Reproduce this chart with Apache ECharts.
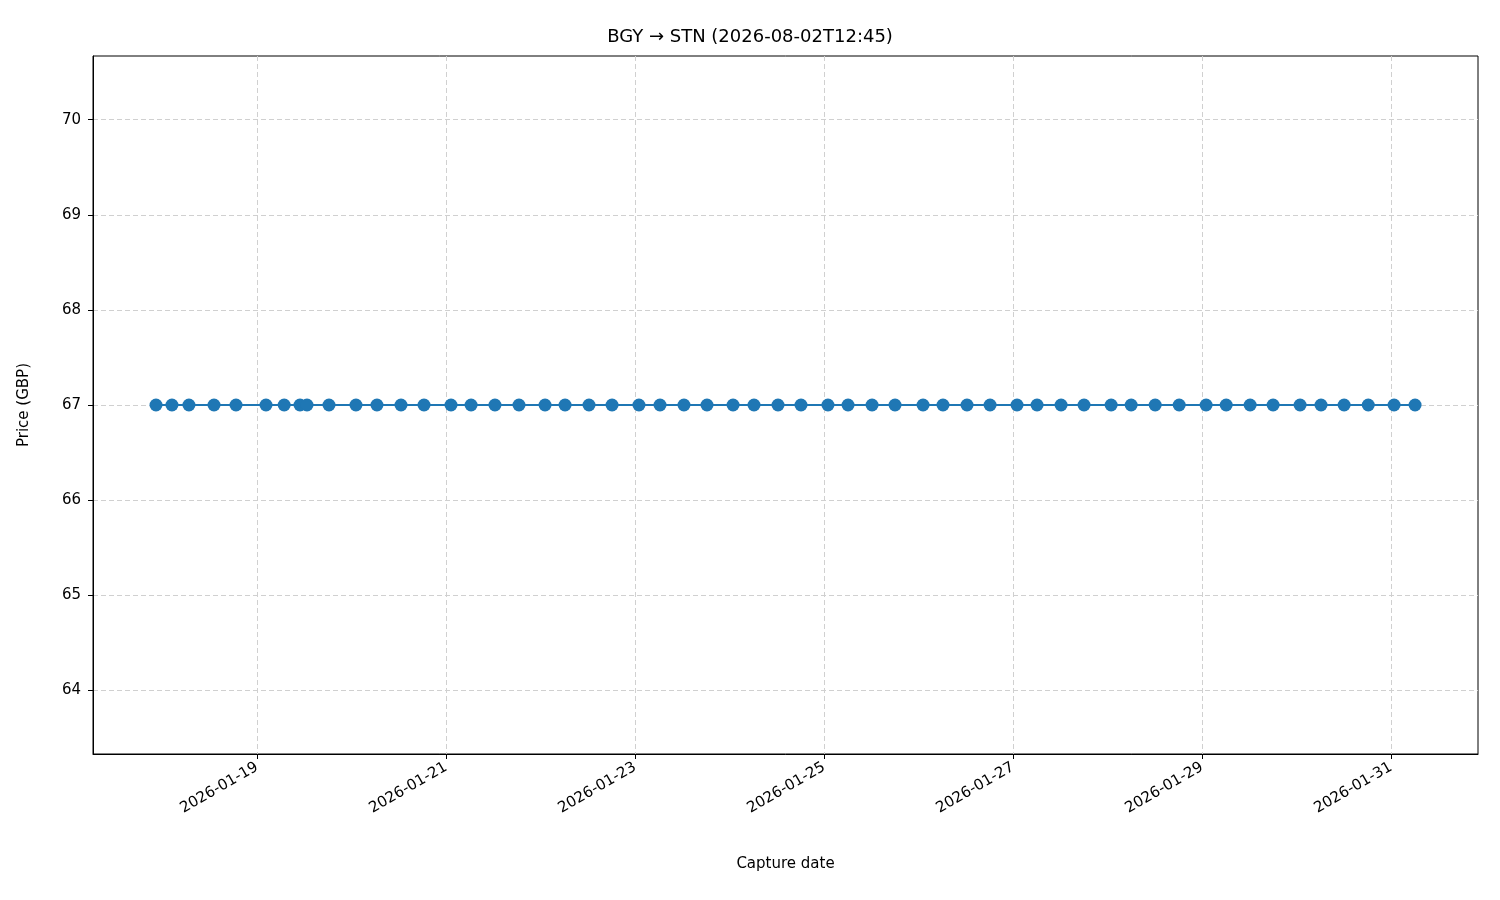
<!DOCTYPE html>
<html><head><meta charset="utf-8">
<script src="https://cdn.jsdelivr.net/npm/echarts@6/dist/echarts.min.js"></script>
<style>html,body{margin:0;padding:0;background:#fff}#c{width:1500px;height:900px}</style>
</head><body><div id="c"></div>
<script>
const captureTimes = [
"2026-01-17T22:21","2026-01-18T02:24","2026-01-18T06:43","2026-01-18T13:05","2026-01-18T18:40",
"2026-01-19T02:17","2026-01-19T06:54","2026-01-19T10:55","2026-01-19T12:42","2026-01-19T18:17",
"2026-01-20T01:08","2026-01-20T06:28","2026-01-20T12:34","2026-01-20T18:25",
"2026-01-21T01:16","2026-01-21T06:22","2026-01-21T12:26","2026-01-21T18:32",
"2026-01-22T01:09","2026-01-22T06:14","2026-01-22T12:19","2026-01-22T18:10",
"2026-01-23T01:00","2026-01-23T06:21","2026-01-23T12:26","2026-01-23T18:17",
"2026-01-24T00:54","2026-01-24T06:13","2026-01-24T12:19","2026-01-24T18:09",
"2026-01-25T01:00","2026-01-25T06:06","2026-01-25T12:12","2026-01-25T18:02",
"2026-01-26T01:09","2026-01-26T06:13","2026-01-26T12:19","2026-01-26T18:10",
"2026-01-27T01:01","2026-01-27T06:06","2026-01-27T12:12","2026-01-27T18:02",
"2026-01-28T00:55","2026-01-28T06:00","2026-01-28T12:06","2026-01-28T18:12",
"2026-01-29T01:02","2026-01-29T06:08","2026-01-29T12:13","2026-01-29T18:03",
"2026-01-30T00:54","2026-01-30T06:13","2026-01-30T12:05","2026-01-30T18:13",
"2026-01-31T00:46","2026-01-31T06:06"
];
const prices = captureTimes.map(() => 67);
const xTickLabels = ["2026-01-19","2026-01-21","2026-01-23","2026-01-25","2026-01-27","2026-01-29","2026-01-31"];
const yTicks = [64,65,66,67,68,69,70];

const t = s => Date.parse(s + (s.length===10 ? "T00:00:00Z" : ":00Z"));
const xTicks = xTickLabels.map(t);
const font = "DejaVu Sans";
const chart = echarts.init(document.getElementById('c'));
chart.setOption({
  animation:false,
  title:{text:"BGY → STN (2026-08-02T12:45)",left:'center',top:23,textStyle:{fontFamily:font,fontSize:18,fontWeight:'normal',color:'#000'}},
  grid:{left:93,right:22,top:56,bottom:146,containLabel:false,show:true,borderColor:'#000',borderWidth:1},
  xAxis:{type:'value',min:t("2026-01-17T06:21"),max:t("2026-01-31T22:05"),
    name:"Capture date",nameLocation:'middle',nameGap:103,nameTextStyle:{fontFamily:font,fontSize:15,color:'#000'},
    axisLine:{show:true,onZero:false,lineStyle:{color:'#000'}},
    axisTick:{show:true,customValues:xTicks,length:5,lineStyle:{color:'#000'}},
    axisLabel:{customValues:xTicks,rotate:30,fontFamily:font,fontSize:15,color:'#000',margin:12,
      formatter:v=>{const d=new Date(v);return d.toISOString().slice(0,10);}},
    splitLine:{show:true,lineStyle:{type:[5,3],color:'#d0d0d0'}}},
  yAxis:{type:'value',min:63.33,max:70.67,
    name:"Price (GBP)",nameLocation:'middle',nameGap:61,nameTextStyle:{fontFamily:font,fontSize:15,color:'#000'},
    axisLine:{show:true,lineStyle:{color:'#000'}},
    axisTick:{show:true,customValues:yTicks,length:5,lineStyle:{color:'#000'}},
    axisLabel:{customValues:yTicks,fontFamily:font,fontSize:15,color:'#000',margin:12},
    splitLine:{show:true,lineStyle:{type:[5,3],color:'#d0d0d0'}}},
  series:[{type:'line',data:captureTimes.map((s,i)=>[t(s),prices[i]]),
    symbol:'circle',symbolSize:13,lineStyle:{color:'#1f77b4',width:2.2},itemStyle:{color:'#1f77b4'}}]
});
</script></body></html>
